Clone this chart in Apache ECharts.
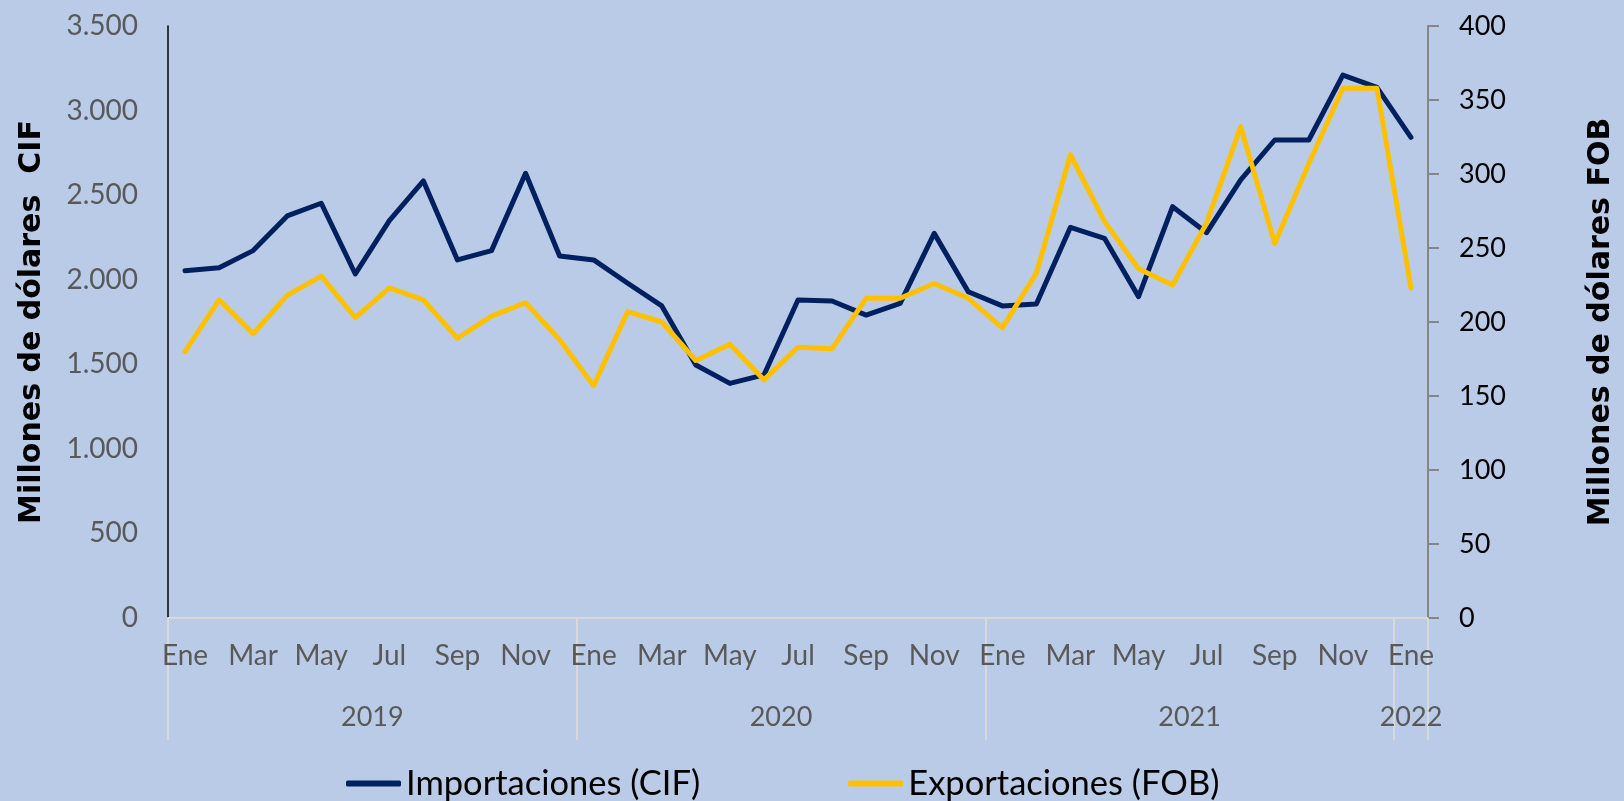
<!DOCTYPE html>
<html>
<head>
<meta charset="utf-8">
<script src="https://cdn.jsdelivr.net/npm/echarts@6/dist/echarts.min.js"></script>
<style>
html,body{margin:0;padding:0;background:#BACBE7;}
#chart{width:1624px;height:801px;}
</style>
</head>
<body>
<div id="chart"></div>
<script>
const months = ['Ene','Feb','Mar','Abr','May','Jun','Jul','Ago','Sep','Oct','Nov','Dic',
                'Ene','Feb','Mar','Abr','May','Jun','Jul','Ago','Sep','Oct','Nov','Dic',
                'Ene','Feb','Mar','Abr','May','Jun','Jul','Ago','Sep','Oct','Nov','Dic',
                'Ene'];
const years = ['2019','2020','2021','2022'];
const monthsPerYear = [12,12,12,1];
const importaciones = [2053,2071,2172,2377,2452,2034,2349,2584,2117,2172,2629,2140,
                       2117,1979,1845,1496,1387,1437,1880,1874,1791,1860,2274,1929,
                       1845,1856,2310,2245,1900,2432,2278,2590,2826,2826,3210,3137,
                       2842];
const exportaciones = [180,215,192,218,231,203,223,215,189,204,213,188,
                       157,207,200,174,185,161,183,182,216,216,226,216,
                       196,233,313,268,236,225,267,332,253,307,358,358,
                       223];
const leftTicks = {min:0, max:3500, interval:500};
const rightTicks = {min:0, max:400, interval:50};

// Build half-month slots for the year (group) axis
const slotLabels = [];
const slotTicks = new Set();
let pos = 0;
slotTicks.add(0);
const totalSlots = months.length * 2;
for (let i = 0; i <= totalSlots; i++) slotLabels.push('');
years.forEach((y, k) => {
  const len = monthsPerYear[k] * 2;
  slotLabels[pos + Math.floor(len / 2)] = y;
  pos += len;
  slotTicks.add(pos);
});
const slotData = slotLabels.map((_, i) => String(i));

const labelFont = 'Lato';
const chart = echarts.init(document.getElementById('chart'));
chart.setOption({
  backgroundColor: '#BACBE7',
  animation: false,
  grid: {left:168, right:191, top:26, bottom:183, containLabel:false},
  legend: {
    left: 341, top: 761,
    itemWidth: 55, itemHeight: 6, itemGap: 148,
    icon: 'roundRect',
    textStyle: {fontFamily: labelFont, fontSize: 34.5, color: '#000'},
    data: ['Importaciones (CIF)','Exportaciones (FOB)']
  },
  xAxis: [
    {
      type: 'category', data: months, boundaryGap: true, position: 'bottom',
      axisLine: {show: true, lineStyle: {color: '#D9D9D9', width: 2}},
      axisTick: {show: false},
      axisLabel: {interval: 1, margin: 24, fontFamily: labelFont, fontSize: 28, color: '#595959'},
      splitLine: {show: false}
    },
    {
      type: 'category', data: slotData, boundaryGap: false, position: 'bottom',
      axisLine: {show: false},
      axisTick: {show: true, length: 122, interval: (i) => slotTicks.has(i),
                 lineStyle: {color: '#D9D9D9', width: 2}},
      axisLabel: {interval: (i) => slotLabels[i] !== '', margin: 86,
                  formatter: (v) => slotLabels[+v],
                  fontFamily: labelFont, fontSize: 27, color: '#595959'},
      splitLine: {show: false}
    }
  ],
  yAxis: [
    {
      type: 'value', position: 'left', min: leftTicks.min, max: leftTicks.max, interval: leftTicks.interval,
      name: 'Millones de dólares  CIF', nameLocation: 'middle', nameRotate: 90, nameGap: 121,
      nameTextStyle: {fontFamily: 'DejaVu Sans', fontWeight: 'bold', fontSize: 30, color: '#000'},
      axisLine: {show: true, lineStyle: {color: '#000', width: 1.5}},
      axisTick: {show: false},
      axisLabel: {margin: 30, fontFamily: labelFont, fontSize: 28, color: '#595959',
                  formatter: (v) => v.toString().replace(/\B(?=(\d{3})+(?!\d))/g, '.')},
      splitLine: {show: false}
    },
    {
      type: 'value', position: 'right', min: rightTicks.min, max: rightTicks.max, interval: rightTicks.interval,
      name: 'Millones de dólares FOB', nameLocation: 'middle', nameRotate: 90, nameGap: 158,
      nameTextStyle: {fontFamily: 'DejaVu Sans', fontWeight: 'bold', fontSize: 30, color: '#000'},
      axisLine: {show: true, lineStyle: {color: '#868686', width: 2}},
      axisTick: {show: true, inside: false, length: 11, lineStyle: {color: '#868686', width: 2}},
      axisLabel: {margin: 31, fontFamily: labelFont, fontSize: 27, color: '#000'},
      splitLine: {show: false}
    }
  ],
  series: [
    {
      name: 'Importaciones (CIF)', type: 'line', xAxisIndex: 0, yAxisIndex: 0,
      data: importaciones, symbol: 'none', color: '#002060',
      lineStyle: {width: 5, color: '#002060', cap: 'round', join: 'round'}
    },
    {
      name: 'Exportaciones (FOB)', type: 'line', xAxisIndex: 0, yAxisIndex: 1,
      data: exportaciones, symbol: 'none', color: '#FFC000',
      lineStyle: {width: 5, color: '#FFC000', cap: 'round', join: 'round'}
    }
  ]
});
</script>
</body>
</html>
